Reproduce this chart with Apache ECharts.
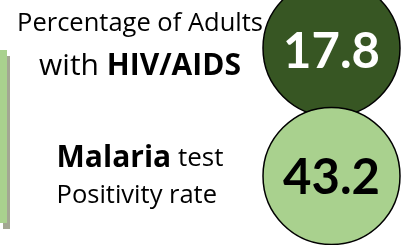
<!DOCTYPE html>
<html>
<head>
<meta charset="utf-8">
<script src="https://cdn.jsdelivr.net/npm/echarts@6/dist/echarts.min.js"></script>
<style>
html, body { margin: 0; padding: 0; background: #fff; }
#main { width: 401px; height: 245px; }
</style>
</head>
<body>
<div id="main"></div>
<script>
// indicators and their rates
var indicators = ['HIV/AIDS', 'Malaria'];
var rates = [17.8, 43.2];
var circleColors = ['#375623', '#a9d18e'];
var numberColors = ['#ffffff', '#000000'];
var numberShift = [4, 2];

var chart = echarts.init(document.getElementById('main'));

var option = {
    animation: false,
    // light green panel cut off on the left
    graphic: [
        { type: 'rect', shape: { x: 3, y: 56, width: 7, height: 173 }, style: { fill: '#a3a793' } },
        { type: 'rect', shape: { x: -2, y: 50, width: 9, height: 173 }, style: { fill: '#a9d18e' } }
    ],
    grid: { left: 263, right: 1, top: 48, bottom: 69 },
    xAxis: { type: 'category', data: [''], show: false },
    yAxis: {
        type: 'category',
        inverse: true,
        boundaryGap: false,
        data: indicators,
        axisLine: { show: false },
        axisTick: { show: false },
        splitLine: { show: false },
        axisLabel: {
            interval: 0,
            margin: 123,
            align: 'center',
            verticalAlign: 'middle',
            formatter: function (val, idx) {
                if (idx === 0) {
                    return '{a|Percentage of Adults}\n{b|with }{c|' + val + '}';
                }
                return '{d|' + val + '}{e| test}\n{f|Positivity rate}';
            },
            rich: {
                a: { fontFamily: 'Open Sans', fontSize: 25.5, lineHeight: 37, color: '#000' },
                b: { fontFamily: 'Open Sans', fontSize: 30, lineHeight: 48, color: '#000' },
                c: { fontFamily: 'Open Sans', fontSize: 30, fontWeight: 'bold', lineHeight: 48, color: '#000' },
                d: { fontFamily: 'Open Sans', fontSize: 30, fontWeight: 'bold', lineHeight: 39, color: '#000', align: 'left' },
                e: { fontFamily: 'Open Sans', fontSize: 26, lineHeight: 39, color: '#000', align: 'left' },
                f: { fontFamily: 'Open Sans', fontSize: 25.5, lineHeight: 35, color: '#000', align: 'left' }
            }
        }
    },
    series: [
        {
            type: 'scatter',
            clip: false,
            symbol: 'circle',
            symbolSize: 137,
            emphasis: { disabled: true },
            data: rates.map(function (v, i) {
                return {
                    value: [0, i, v],
                    itemStyle: { color: circleColors[i], borderColor: '#000', borderWidth: 1.5, opacity: 1 },
                    label: { color: numberColors[i], offset: [0, numberShift[i]] }
                };
            }),
            label: {
                show: true,
                position: 'inside',
                formatter: function (p) { return p.value[2].toFixed(1); },
                fontFamily: 'Lato',
                fontWeight: 'bold',
                fontSize: 49
            }
        }
    ]
};

chart.setOption(option);
</script>
</body>
</html>
